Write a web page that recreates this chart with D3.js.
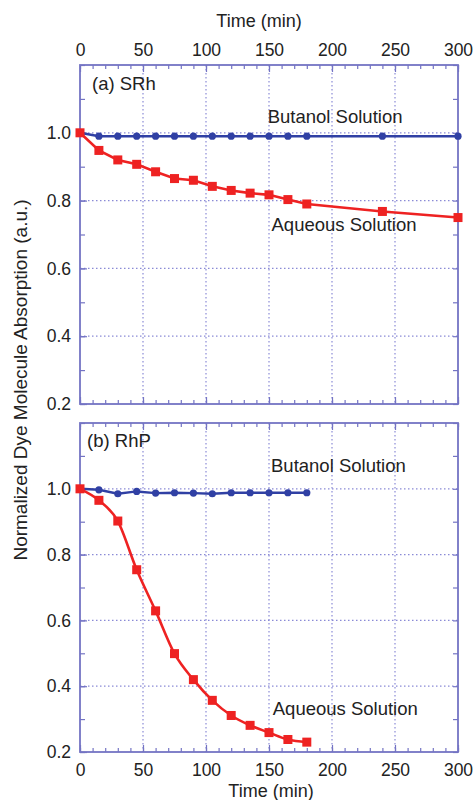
<!DOCTYPE html>
<html>
<head>
<meta charset="utf-8">
<script src="https://cdn.jsdelivr.net/npm/d3@7"></script>
<style>
  body { margin: 0; background: #fff; }
  text { font-family: "Liberation Sans", Arial, sans-serif; fill: #222; }
</style>
</head>
<body>
<div id="chart"></div>
<script>
// data
const timeA = [0, 15, 30, 45, 60, 75, 90, 105, 120, 135, 150, 165, 180, 240, 300];
const butanolA = [1.0, 0.99, 0.99, 0.99, 0.99, 0.99, 0.99, 0.99, 0.99, 0.99, 0.99, 0.99, 0.99, 0.99, 0.99];
const aqueousA = [1.0, 0.948, 0.92, 0.907, 0.885, 0.865, 0.86, 0.842, 0.83, 0.822, 0.817, 0.803, 0.79, 0.768, 0.75];

const timeB = [0, 15, 30, 45, 60, 75, 90, 105, 120, 135, 150, 165, 180];
const butanolB = [1.0, 0.997, 0.985, 0.992, 0.987, 0.988, 0.987, 0.985, 0.988, 0.988, 0.988, 0.988, 0.988];
const aqueousB = [1.0, 0.965, 0.902, 0.754, 0.629, 0.499, 0.42, 0.357, 0.311, 0.281, 0.259, 0.238, 0.23];

const xTicks = [0, 50, 100, 150, 200, 250, 300];
const yTicks = [0.2, 0.4, 0.6, 0.8, 1.0];

const panels = [
  { id: "a", time: timeA, butanol: butanolA, aqueous: aqueousA,
    top: 65, bottom: 404, labelTop: true, smooth: false,
    notes: [["(a) SRh", 9.5, 1.126], ["Butanol Solution", 149, 1.029], ["Aqueous Solution", 152, 0.71]] },
  { id: "b", time: timeB, butanol: butanolB, aqueous: aqueousB,
    top: 423, bottom: 752, labelTop: false, smooth: true,
    notes: [["(b) RhP", 5.6, 1.127], ["Butanol Solution", 151.6, 1.051], ["Aqueous Solution", 153, 0.312]] }
];

const W = 474, H = 800;
const left = 80, right = 458;
const frameColor = "#7474c4";
const gridColor = "#8a8ad6";
const red = "#ee2222", blue = "#3040a4";

const svg = d3.select("#chart").append("svg")
  .attr("width", W).attr("height", H);

const x = d3.scaleLinear().domain([0, 300]).range([left, right]);

function styleAxis(g) {
  g.select(".domain").remove();
  g.selectAll(".tick line").attr("stroke", frameColor).attr("stroke-width", 1.2);
  g.selectAll(".tick text").style("font-size", "17.5px").attr("fill", "#222");
}

panels.forEach(p => {
  const y = d3.scaleLinear().domain([0.2, 1.2]).range([p.bottom, p.top]);
  const g = svg.append("g");

  // grid
  g.selectAll(".gx").data(xTicks.slice(1, -1)).enter().append("line")
    .attr("x1", d => x(d)).attr("x2", d => x(d))
    .attr("y1", p.top).attr("y2", p.bottom)
    .attr("stroke", gridColor).attr("stroke-width", 1.2)
    .attr("stroke-dasharray", "1.5,2.5");
  g.selectAll(".gy").data(yTicks.slice(1)).enter().append("line")
    .attr("x1", left).attr("x2", right)
    .attr("y1", d => y(d)).attr("y2", d => y(d))
    .attr("stroke", gridColor).attr("stroke-width", 1.2)
    .attr("stroke-dasharray", "1.5,2.5");

  // minor ticks
  const xMinor = d3.range(0, 301, 10);
  const yMinor = d3.range(0.2, 1.21, 0.1);
  g.append("g").attr("transform", `translate(0,${p.bottom})`)
    .call(d3.axisBottom(x).tickValues(xMinor).tickSize(-4).tickFormat(""))
    .call(styleAxis);
  g.append("g").attr("transform", `translate(0,${p.top})`)
    .call(d3.axisTop(x).tickValues(xMinor).tickSize(-4).tickFormat(""))
    .call(styleAxis);
  g.append("g").attr("transform", `translate(${left},0)`)
    .call(d3.axisLeft(y).tickValues(yMinor).tickSize(-5).tickFormat(""))
    .call(styleAxis);
  g.append("g").attr("transform", `translate(${right},0)`)
    .call(d3.axisRight(y).tickValues(yMinor).tickSize(-5).tickFormat(""))
    .call(styleAxis);

  // major ticks + labels
  g.append("g").attr("transform", `translate(0,${p.bottom})`)
    .call(d3.axisBottom(x).tickValues(xTicks).tickSize(-7).tickPadding(12)
      .tickFormat(p.labelTop ? "" : d3.format("d")))
    .call(styleAxis);
  g.append("g").attr("transform", `translate(0,${p.top})`)
    .call(d3.axisTop(x).tickValues(xTicks).tickSize(-7).tickPadding(9)
      .tickFormat(p.labelTop ? d3.format("d") : ""))
    .call(styleAxis);
  g.append("g").attr("transform", `translate(${left},0)`)
    .call(d3.axisLeft(y).tickValues(yTicks).tickSize(-7).tickPadding(9)
      .tickFormat(d3.format(".1f")))
    .call(styleAxis);

  // frame
  g.append("rect")
    .attr("x", left).attr("y", p.top)
    .attr("width", right - left).attr("height", p.bottom - p.top)
    .attr("fill", "none").attr("stroke", frameColor).attr("stroke-width", 1.8);

  // series
  const line = d3.line().x(d => x(d[0])).y(d => y(d[1]));
  const aLine = d3.line().x(d => x(d[0])).y(d => y(d[1]))
    .curve(p.smooth ? d3.curveMonotoneX : d3.curveLinear);
  const bData = p.time.map((t, i) => [t, p.butanol[i]]);
  const aData = p.time.map((t, i) => [t, p.aqueous[i]]);

  g.append("path").datum(bData).attr("d", line)
    .attr("fill", "none").attr("stroke", blue).attr("stroke-width", 2.4);
  g.selectAll(".bpt").data(bData.slice(1)).enter().append("circle")
    .attr("cx", d => x(d[0])).attr("cy", d => y(d[1])).attr("r", 3.6)
    .attr("fill", blue);

  g.append("path").datum(aData).attr("d", aLine)
    .attr("fill", "none").attr("stroke", red).attr("stroke-width", 2.6);
  g.selectAll(".apt").data(aData).enter().append("rect")
    .attr("x", d => x(d[0]) - 4.5).attr("y", d => y(d[1]) - 4.5)
    .attr("width", 9).attr("height", 9)
    .attr("fill", red);

  // annotations
  g.selectAll(".note").data(p.notes).enter().append("text")
    .attr("x", d => x(d[1])).attr("y", d => y(d[2]))
    .style("font-size", "18.5px")
    .text(d => d[0]);
});

// axis titles
svg.append("text").attr("x", (left + right) / 2 - 10).attr("y", 27)
  .attr("text-anchor", "middle").style("font-size", "18px").text("Time (min)");
svg.append("text").attr("x", (left + right) / 2 + 2).attr("y", 797)
  .attr("text-anchor", "middle").style("font-size", "18px").text("Time (min)");
svg.append("text")
  .attr("transform", "translate(27,380) rotate(-90)")
  .attr("text-anchor", "middle").style("font-size", "19px")
  .text("Normalized Dye Molecule Absorption (a.u.)");
</script>
</body>
</html>
